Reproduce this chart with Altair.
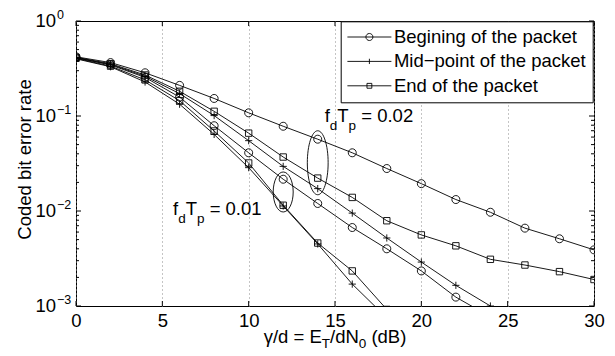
import altair as alt
import pandas as pd

W, H = 518, 285
FONT = "Liberation Sans"

# ---------------- data ----------------
x_db = [0, 2, 4, 6, 8, 10, 12, 14, 16, 18, 20, 22, 24, 26, 28, 30]
ber_002_begin = [0.42, 0.365, 0.285, 0.21, 0.153, 0.108, 0.078, 0.057, 0.041, 0.028,
                 0.0194, 0.0132, 0.0097, 0.0066, 0.0051, 0.0039]
ber_002_mid = [0.41, 0.35, 0.262, 0.172, 0.101, 0.055, 0.0295, 0.0172, 0.0095, 0.0052,
               0.0029, 0.00165, 0.001]
ber_002_end = [0.415, 0.355, 0.27, 0.182, 0.112, 0.066, 0.037, 0.0222, 0.0139, 0.0079,
               0.0056, 0.0043, 0.0031, 0.0027, 0.0023, 0.0019]
ber_001_begin = [0.41, 0.345, 0.255, 0.158, 0.079, 0.041, 0.0216, 0.012, 0.0067, 0.004,
                 0.00234, 0.00124, 0.00077]
ber_001_mid = [0.40, 0.33, 0.228, 0.133, 0.064, 0.0286, 0.0113, 0.0045, 0.0017, 0.00075]
ber_001_end = [0.405, 0.335, 0.24, 0.145, 0.0695, 0.032, 0.0115, 0.0046, 0.00234, 0.00092]

positions = ["Begining of the packet", "Mid\u2212point of the packet", "End of the packet"]

x_ticks = [0, 5, 10, 15, 20, 25, 30]
y_major = [1, 0.1, 0.01, 0.001]
y_exps = ["0", "\u22121", "\u22122", "\u22123"]
y_minor = [k * 10.0 ** e for e in (-3, -2, -1) for k in range(2, 10)]

# annotation anchors (data coordinates) and ellipses
ann_x = [14.4, 5.62]
ann_y = [0.0859, 0.00912]
ann_val = ["= 0.02", "= 0.01"]
ell_x = [12, 14]
ell_y = [0.01585, 0.0322]

# ---------------- table ----------------
rows = []
for grp, pos, vals in [("0.02", positions[0], ber_002_begin),
                       ("0.02", positions[1], ber_002_mid),
                       ("0.02", positions[2], ber_002_end),
                       ("0.01", positions[0], ber_001_begin),
                       ("0.01", positions[1], ber_001_mid),
                       ("0.01", positions[2], ber_001_end)]:
    for xv, yv in zip(x_db, vals):
        rows.append(dict(series=grp + "|" + pos, pos=pos, x=xv, y=yv))
df = pd.DataFrame(rows)

# ---------------- text width helper (Arial/Liberation metrics) ----------------
AW = {'γ': 500, 'f': 278, 'd': 556, 'T': 611, 'p': 556, ' ': 278, '=': 584, '0': 556,
      '.': 278, '1': 556, '2': 556, '/': 278, 'E': 667, 'N': 722, '(': 333, 'B': 667, ')': 333}


def tw(s, fs):
    return sum(AW.get(c, 556) for c in s) * fs / 1000.0


MAIN = 18.5
SUB = 13.5

X = alt.X("x:Q", scale=alt.Scale(domain=[0, 30], nice=False, zero=False),
          axis=alt.Axis(values=x_ticks, ticks=False, domain=False, grid=True,
                        gridDash=[1, 3], gridColor="#8a8a8a", gridWidth=1,
                        labelFontSize=MAIN, labelFont=FONT, labelColor="black",
                        labelPadding=5, labelFlush=False, title=None))
Y = alt.Y("y:Q", scale=alt.Scale(type="log", domain=[0.001, 1], nice=False),
          axis=alt.Axis(labels=False, ticks=False, domain=False, grid=False,
                        title="Coded bit error rate", titleFontSize=MAIN, titleFont=FONT,
                        titleFontWeight="normal", titleColor="black", titleAngle=-90,
                        titleX=-46, titleY=138, titleAlign="center",
                        titleBaseline="alphabetic"))

marker_paths = ["M1,0A1,1,0,1,1,-1,0A1,1,0,1,1,1,0Z",
                "M-0.9,0H0.9M0,-0.9V0.9",
                "M-0.8,-0.8H0.8V0.8H-0.8Z"]
legend_paths = ["M-1,0H1M0.16,0A0.16,0.16,0,1,1,-0.16,0A0.16,0.16,0,1,1,0.16,0Z",
                "M-1,0H1M0,-0.12V0.12",
                "M-1,0H1M-0.11,-0.11H0.11V0.11H-0.11Z"]

layers = []

lines = alt.Chart(df).mark_line(color="black", strokeWidth=0.9, clip=True).encode(
    x=X, y=Y, detail="series:N", order="x:Q")
layers.append(lines)

points = alt.Chart(df).mark_point(filled=False, color="black", strokeWidth=0.9, size=64,
                                  opacity=1, clip=True).encode(
    x=X, y=Y,
    shape=alt.Shape("pos:N", scale=alt.Scale(domain=positions, range=marker_paths), legend=None))
layers.append(points)

legend_layer = alt.Chart(df).transform_filter("datum.x < 0").mark_point(
    filled=False, color="black", strokeWidth=0.9, opacity=1).encode(
    x=X, y=Y,
    shape=alt.Shape("pos:N", scale=alt.Scale(domain=positions, range=legend_paths),
                    legend=alt.Legend(orient="none", legendX=264.7, legendY=0.3, title=None,
                                      fillColor="white", strokeColor="black", padding=6.2,
                                      symbolSize=1936, clipHeight=19, rowPadding=5.4,
                                      labelFontSize=MAIN, labelFont=FONT, labelColor="black",
                                      labelOffset=2, labelLimit=400,
                                      symbolStrokeWidth=0.9, symbolStrokeColor="black")))
layers.append(legend_layer)

# ellipses
ell_df = pd.DataFrame({"x": ell_x, "y": ell_y})
layers.append(alt.Chart(ell_df.iloc[[0]]).mark_point(
    shape="M0,-1A0.5,1,0,1,1,0,1A0.5,1,0,1,1,0,-1Z", size=1600, filled=False,
    color="black", strokeWidth=0.9, opacity=1).encode(x=X, y=Y))
layers.append(alt.Chart(ell_df.iloc[[1]]).mark_point(
    shape="M0,-1A0.325,1,0,1,1,0,1A0.325,1,0,1,1,0,-1Z", size=4096, filled=False,
    color="black", strokeWidth=0.9, opacity=1).encode(x=X, y=Y))

# inside ticks
xt = pd.DataFrame({"x": x_ticks})
ymaj = pd.DataFrame({"y": y_major})
ymin = pd.DataFrame({"y": y_minor})
rule = dict(color="black", strokeWidth=1)
layers.append(alt.Chart(xt).mark_rule(**rule).encode(x=X, y=alt.value(H), y2=alt.value(H - 5)))
layers.append(alt.Chart(xt).mark_rule(**rule).encode(x=X, y=alt.value(0), y2=alt.value(5)))
layers.append(alt.Chart(ymaj).mark_rule(**rule).encode(y=Y, x=alt.value(0), x2=alt.value(5)))
layers.append(alt.Chart(ymaj).mark_rule(**rule).encode(y=Y, x=alt.value(W), x2=alt.value(W - 5)))
layers.append(alt.Chart(ymin).mark_rule(**rule).encode(y=Y, x=alt.value(0), x2=alt.value(3)))
layers.append(alt.Chart(ymin).mark_rule(**rule).encode(y=Y, x=alt.value(W), x2=alt.value(W - 3)))

# y tick labels 10^n
ylab = pd.DataFrame({"y": y_major, "exp": y_exps})
layers.append(alt.Chart(ylab).mark_text(text="10", align="right", baseline="middle", fontSize=MAIN,
                                        font=FONT, color="black").encode(y=Y, x=alt.value(-20)))
layers.append(alt.Chart(ylab).mark_text(align="left", baseline="middle", fontSize=12.5, dy=-6,
                                        font=FONT, color="black").encode(
    y=Y, x=alt.value(-19), text="exp:N"))

# annotations f_d T_p = ...
ann = pd.DataFrame({"x": ann_x, "y": ann_y, "val": ann_val})
SDY = 8
pieces = [("f", MAIN, 0), ("d", SUB, SDY), ("T", MAIN, 0), ("p", SUB, SDY)]
off = 0.0
for txt, fs, dy in pieces:
    layers.append(alt.Chart(ann).mark_text(text=txt, align="left", baseline="alphabetic",
                                           fontSize=fs, dx=off, dy=dy, font=FONT,
                                           color="black").encode(x=X, y=Y))
    off += tw(txt, fs)
off += tw(" ", MAIN)
layers.append(alt.Chart(ann).mark_text(align="left", baseline="alphabetic", fontSize=MAIN,
                                       dx=off, font=FONT, color="black").encode(
    x=X, y=Y, text="val:N"))

# x-axis title  γ/d = E_T/dN_0 (dB)
tpieces = [("γ/d = E", MAIN, 0), ("T", SUB, 5), ("/dN", MAIN, 0), ("0", SUB, 5), (" (dB)", MAIN, 0)]
total = sum(tw(t, f) for t, f, _ in tpieces)
cx = W / 2 - total / 2
base_y = 321.5
dummy = pd.DataFrame({"k": [0]})
for txt, fs, dy in tpieces:
    lead = len(txt) - len(txt.lstrip(" "))
    shift = tw(" " * lead, fs)
    layers.append(alt.Chart(dummy).mark_text(text=txt.strip(), align="left",
                                             baseline="alphabetic", fontSize=fs, font=FONT,
                                             color="black").encode(
        x=alt.value(cx + shift), y=alt.value(base_y + dy)))
    cx += tw(txt, fs)

chart = alt.layer(*layers).resolve_scale(shape="independent").properties(
    width=W, height=H,
    padding={"left": 68, "top": 13, "right": 13, "bottom": 47},
    autosize=alt.AutoSizeParams(type="none"),
).configure(font=FONT).configure_view(stroke="black", strokeWidth=1)

chart.save("out.html", embed_options={"renderer": "svg", "actions": False})
